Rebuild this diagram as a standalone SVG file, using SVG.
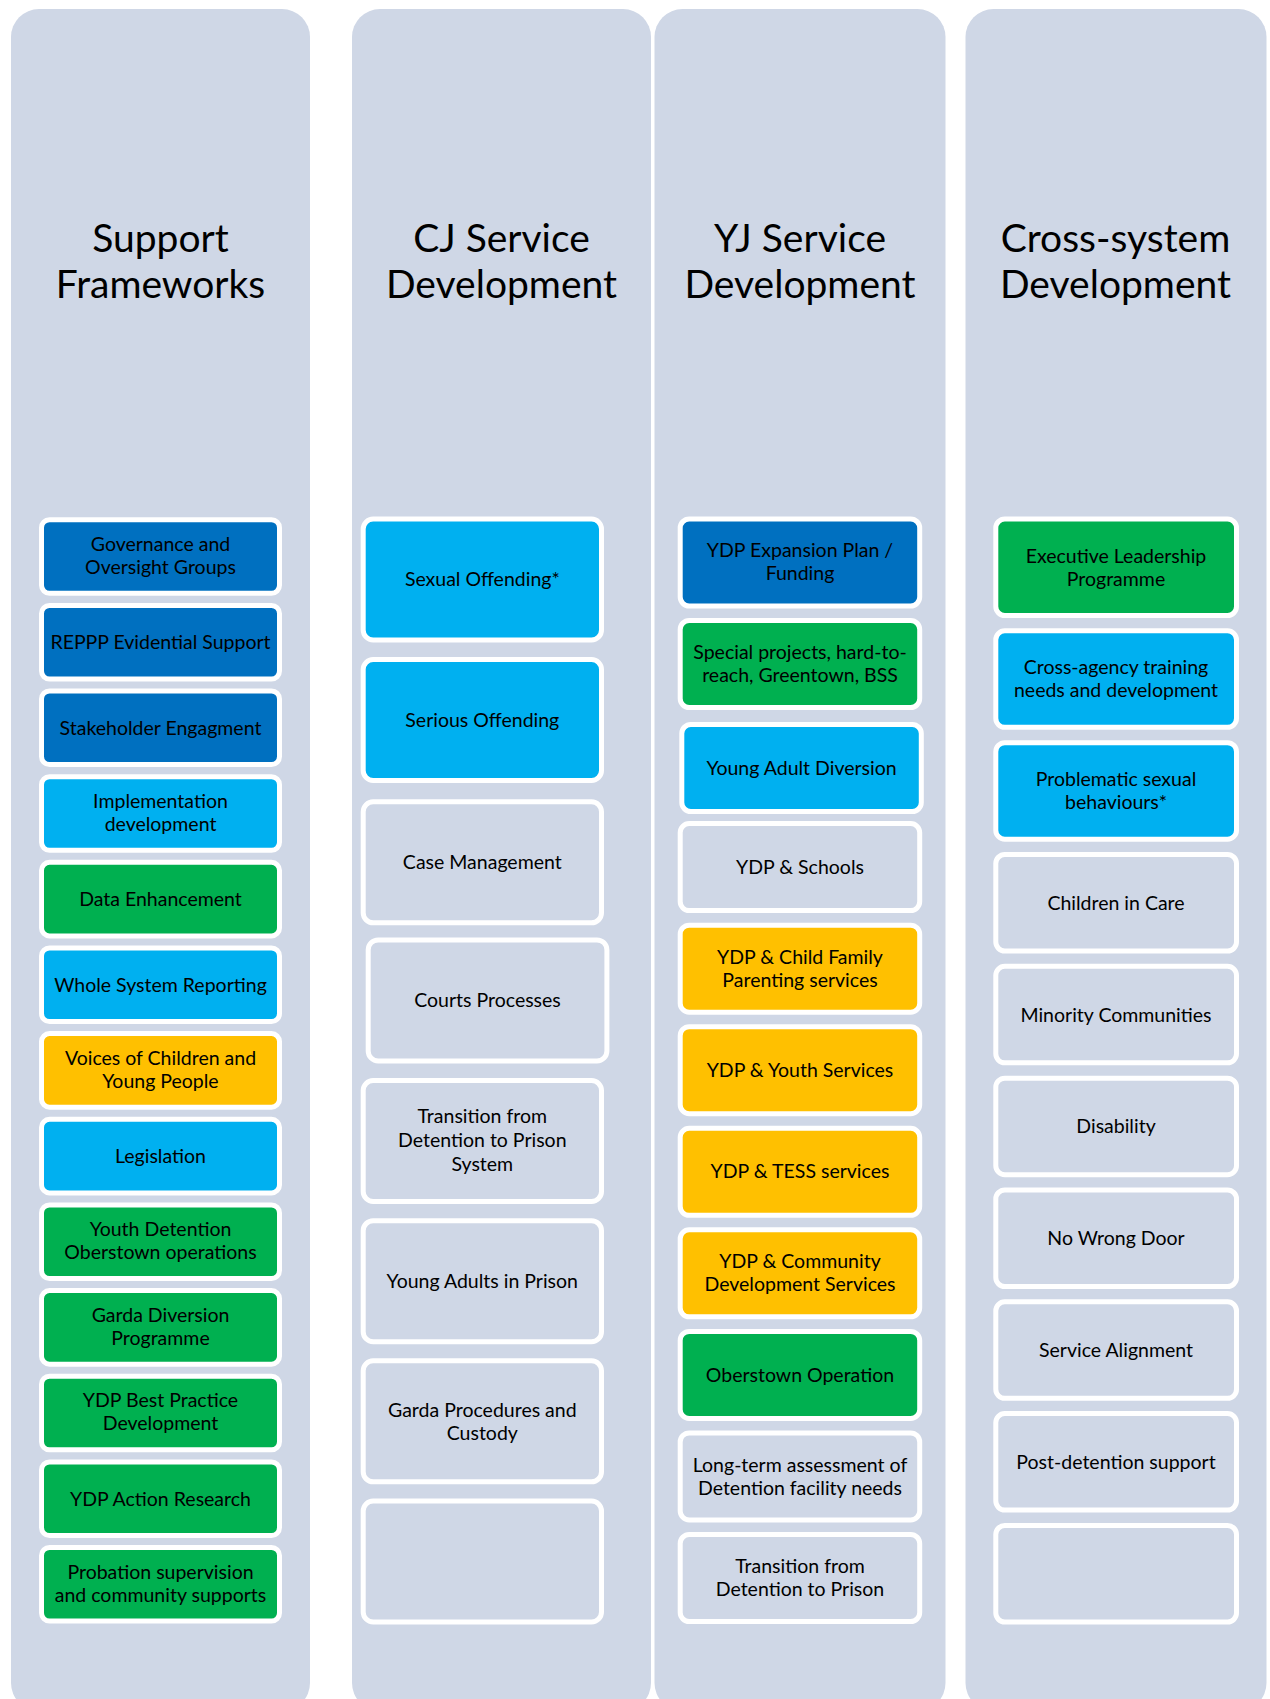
<svg xmlns="http://www.w3.org/2000/svg" width="1270" height="1699" viewBox="0 0 1270 1699">
<style>
.col{fill:#CFD7E6}
.hd{font-family:Lato,"Liberation Sans",sans-serif;font-size:39px;fill:#000;text-anchor:middle}
.bx{stroke:#FFFFFF;stroke-width:5}
.db{fill:#0070C0}.lb{fill:#00B0F0}.gr{fill:#00B050}.yl{fill:#FFC000}.gy{fill:#CFD7E6}
.t{font-family:Lato,"Liberation Sans",sans-serif;font-size:19.5px;fill:#000;text-anchor:middle}
</style>
<rect width="1270" height="1699" fill="#FFFFFF"/>
<g id="col-support">
<rect class="col" x="11" y="9" width="299" height="1702" rx="28"/>
<text class="hd"><tspan x="160.5" y="252">Support</tspan><tspan x="160.5" y="298">Frameworks</tspan></text>
</g>
<g id="col-cj">
<rect class="col" x="352" y="9" width="299" height="1702" rx="28"/>
<text class="hd"><tspan x="501.5" y="252">CJ Service</tspan><tspan x="501.5" y="298">Development</tspan></text>
</g>
<g id="col-yj">
<rect class="col" x="654.5" y="9" width="291" height="1702" rx="28"/>
<text class="hd"><tspan x="800" y="252">YJ Service</tspan><tspan x="800" y="298">Development</tspan></text>
</g>
<g id="col-cross">
<rect class="col" x="965.5" y="9" width="301" height="1702" rx="28"/>
<text class="hd"><tspan x="1115.5" y="252">Cross-system</tspan><tspan x="1115.5" y="298">Development</tspan></text>
</g>

<!-- Column 1 -->
<g id="n-governance"><rect class="bx db" x="41.5" y="519.7" width="238" height="73.6" rx="8"/><text class="t"><tspan x="160.5" y="551">Governance and</tspan><tspan x="160.5" y="574">Oversight Groups</tspan></text></g>
<g id="n-reppp"><rect class="bx db" x="41.5" y="605.4" width="238" height="73.6" rx="8"/><text class="t" x="160.5" y="649">REPPP Evidential Support</text></g>
<g id="n-stakeholder"><rect class="bx db" x="41.5" y="691" width="238" height="73.6" rx="8"/><text class="t" x="160.5" y="735">Stakeholder Engagment</text></g>
<g id="n-implementation"><rect class="bx lb" x="41.5" y="776.7" width="238" height="73.6" rx="8"/><text class="t"><tspan x="160.5" y="808">Implementation</tspan><tspan x="160.5" y="831">development</tspan></text></g>
<g id="n-data"><rect class="bx gr" x="41.5" y="862.3" width="238" height="73.6" rx="8"/><text class="t" x="160.5" y="906">Data Enhancement</text></g>
<g id="n-whole"><rect class="bx lb" x="41.5" y="948" width="238" height="73.6" rx="8"/><text class="t" x="160.5" y="992">Whole System Reporting</text></g>
<g id="n-voices"><rect class="bx yl" x="41.5" y="1033.6" width="238" height="73.6" rx="8"/><text class="t"><tspan x="160.5" y="1065">Voices of Children and</tspan><tspan x="160.5" y="1088">Young People</tspan></text></g>
<g id="n-legislation"><rect class="bx lb" x="41.5" y="1119.3" width="238" height="73.6" rx="8"/><text class="t" x="160.5" y="1163">Legislation</text></g>
<g id="n-youthdet"><rect class="bx gr" x="41.5" y="1204.9" width="238" height="73.6" rx="8"/><text class="t"><tspan x="160.5" y="1236">Youth Detention</tspan><tspan x="160.5" y="1259">Oberstown operations</tspan></text></g>
<g id="n-gardadiv"><rect class="bx gr" x="41.5" y="1290.6" width="238" height="73.6" rx="8"/><text class="t"><tspan x="160.5" y="1322">Garda Diversion</tspan><tspan x="160.5" y="1345">Programme</tspan></text></g>
<g id="n-ydpbest"><rect class="bx gr" x="41.5" y="1376.2" width="238" height="73.6" rx="8"/><text class="t"><tspan x="160.5" y="1407">YDP Best Practice</tspan><tspan x="160.5" y="1430">Development</tspan></text></g>
<g id="n-ydpaction"><rect class="bx gr" x="41.5" y="1461.9" width="238" height="73.6" rx="8"/><text class="t" x="160.5" y="1506">YDP Action Research</text></g>
<g id="n-probation"><rect class="bx gr" x="41.5" y="1547.5" width="238" height="73.6" rx="8"/><text class="t"><tspan x="160.5" y="1579">Probation supervision</tspan><tspan x="160.5" y="1602">and community supports</tspan></text></g>

<!-- Column 2 -->
<g id="n-sexual"><rect class="bx lb" x="363.2" y="519" width="238.3" height="121" rx="10"/><text class="t" x="482.3" y="586">Sexual Offending*</text></g>
<g id="n-serious"><rect class="bx lb" x="363.2" y="659.5" width="238.3" height="121" rx="10"/><text class="t" x="482.3" y="727">Serious Offending</text></g>
<g id="n-case"><rect class="bx gy" x="363.2" y="801.8" width="238.3" height="121" rx="10"/><text class="t" x="482.3" y="869">Case Management</text></g>
<g id="n-courts"><rect class="bx gy" x="368.2" y="939.9" width="238.7" height="121" rx="10"/><text class="t" x="487.5" y="1007">Courts Processes</text></g>
<g id="n-transition-cj"><rect class="bx gy" x="363.2" y="1080.5" width="238.3" height="121" rx="10"/><text class="t"><tspan x="482.3" y="1123">Transition from</tspan><tspan x="482.3" y="1147">Detention to Prison</tspan><tspan x="482.3" y="1171">System</tspan></text></g>
<g id="n-youngadults"><rect class="bx gy" x="363.2" y="1220.7" width="238.3" height="121" rx="10"/><text class="t" x="482.3" y="1288">Young Adults in Prison</text></g>
<g id="n-gardaproc"><rect class="bx gy" x="363.2" y="1360.8" width="238.3" height="121" rx="10"/><text class="t"><tspan x="482.3" y="1417">Garda Procedures and</tspan><tspan x="482.3" y="1440">Custody</tspan></text></g>
<g id="n-empty-cj"><rect class="bx gy" x="363.2" y="1501" width="238.3" height="121" rx="10"/></g>

<!-- Column 3 -->
<g id="n-ydpexp"><rect class="bx db" x="680.2" y="519" width="239.5" height="87" rx="9"/><text class="t"><tspan x="800" y="557">YDP Expansion Plan /</tspan><tspan x="800" y="580">Funding</tspan></text></g>
<g id="n-special"><rect class="bx gr" x="680.2" y="620.5" width="239.5" height="87" rx="9"/><text class="t"><tspan x="800" y="659">Special projects, hard-to-</tspan><tspan x="800" y="682">reach, Greentown, BSS</tspan></text></g>
<g id="n-yad"><rect class="bx lb" x="681.8" y="724.5" width="239.5" height="87" rx="9"/><text class="t" x="801.5" y="775">Young Adult Diversion</text></g>
<g id="n-ydpschools"><rect class="bx gy" x="680.2" y="823.6" width="239.5" height="87" rx="9"/><text class="t" x="800" y="874">YDP &amp; Schools</text></g>
<g id="n-ydpchild"><rect class="bx yl" x="680.2" y="925.2" width="239.5" height="87" rx="9"/><text class="t"><tspan x="800" y="964">YDP &amp; Child Family</tspan><tspan x="800" y="987">Parenting services</tspan></text></g>
<g id="n-ydpyouth"><rect class="bx yl" x="680.2" y="1026.7" width="239.5" height="87" rx="9"/><text class="t" x="800" y="1077">YDP &amp; Youth Services</text></g>
<g id="n-ydptess"><rect class="bx yl" x="680.2" y="1128.3" width="239.5" height="87" rx="9"/><text class="t" x="800" y="1178">YDP &amp; TESS services</text></g>
<g id="n-ydpcomm"><rect class="bx yl" x="680.2" y="1229.8" width="239.5" height="87" rx="9"/><text class="t"><tspan x="800" y="1268">YDP &amp; Community</tspan><tspan x="800" y="1291">Development Services</tspan></text></g>
<g id="n-oberstown"><rect class="bx gr" x="680.2" y="1331.4" width="239.5" height="87" rx="9"/><text class="t" x="800" y="1382">Oberstown Operation</text></g>
<g id="n-longterm"><rect class="bx gy" x="680.2" y="1432.9" width="239.5" height="87" rx="9"/><text class="t"><tspan x="800" y="1472">Long-term assessment of</tspan><tspan x="800" y="1495">Detention facility needs</tspan></text></g>
<g id="n-transition-yj"><rect class="bx gy" x="680.2" y="1534.5" width="239.5" height="87" rx="9"/><text class="t"><tspan x="800" y="1573">Transition from</tspan><tspan x="800" y="1596">Detention to Prison</tspan></text></g>

<!-- Column 4 -->
<g id="n-exec"><rect class="bx gr" x="995.8" y="519" width="240.7" height="96.5" rx="9"/><text class="t"><tspan x="1116" y="563">Executive Leadership</tspan><tspan x="1116" y="586">Programme</tspan></text></g>
<g id="n-crossagency"><rect class="bx lb" x="995.8" y="630.8" width="240.7" height="96.5" rx="9"/><text class="t"><tspan x="1116" y="674">Cross-agency training</tspan><tspan x="1116" y="697">needs and development</tspan></text></g>
<g id="n-problematic"><rect class="bx lb" x="995.8" y="742.7" width="240.7" height="96.5" rx="9"/><text class="t"><tspan x="1116" y="786">Problematic sexual</tspan><tspan x="1116" y="809">behaviours*</tspan></text></g>
<g id="n-care"><rect class="bx gy" x="995.8" y="854.5" width="240.7" height="96.5" rx="9"/><text class="t" x="1116" y="910">Children in Care</text></g>
<g id="n-minority"><rect class="bx gy" x="995.8" y="966.3" width="240.7" height="96.5" rx="9"/><text class="t" x="1116" y="1022">Minority Communities</text></g>
<g id="n-disability"><rect class="bx gy" x="995.8" y="1078.2" width="240.7" height="96.5" rx="9"/><text class="t" x="1116" y="1133">Disability</text></g>
<g id="n-nowrong"><rect class="bx gy" x="995.8" y="1190" width="240.7" height="96.5" rx="9"/><text class="t" x="1116" y="1245">No Wrong Door</text></g>
<g id="n-alignment"><rect class="bx gy" x="995.8" y="1301.8" width="240.7" height="96.5" rx="9"/><text class="t" x="1116" y="1357">Service Alignment</text></g>
<g id="n-postdet"><rect class="bx gy" x="995.8" y="1413.6" width="240.7" height="96.5" rx="9"/><text class="t" x="1116" y="1469">Post-detention support</text></g>
<g id="n-empty-cross"><rect class="bx gy" x="995.8" y="1525.5" width="240.7" height="96.5" rx="9"/></g>

<g id="connectors"></g>
</svg>
